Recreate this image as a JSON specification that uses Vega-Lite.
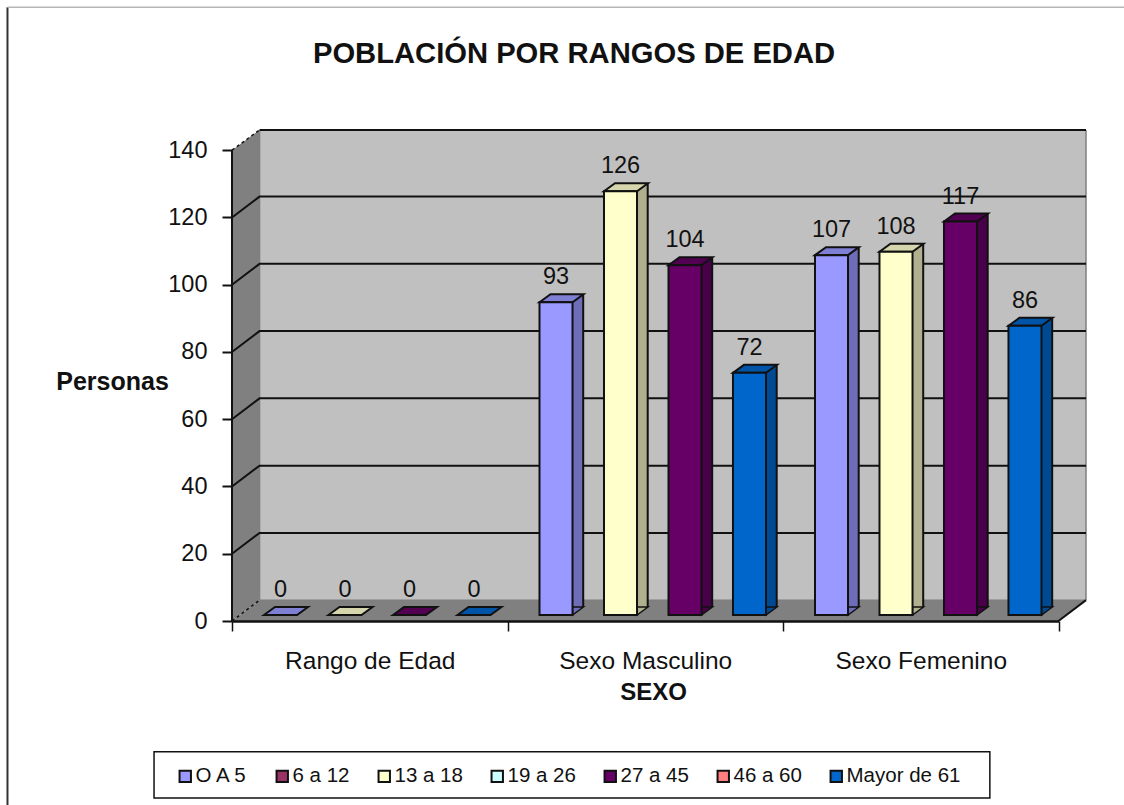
{
"$schema":"https://vega.github.io/schema/vega-lite/v6.json",
"autosize":{"type":"none"},
"padding":{"left":232,"top":130,"right":38,"bottom":184},
"width":854,"height":491,
"background":"white",
"view":{"stroke":null},
"font":"Liberation Sans",
"title":{"text":"POBLACIÓN POR RANGOS DE EDAD","anchor":"middle","frame":"group","font":"Liberation Sans","fontSize":29.2,"fontWeight":"bold","color":"#111111","dx":-85,"offset":-66},
"datasets":{
"bars":[
{"sexo":"Rango de Edad","rango":"O A 5","personas":0},
{"sexo":"Rango de Edad","rango":"13 a 18","personas":0},
{"sexo":"Rango de Edad","rango":"27 a 45","personas":0},
{"sexo":"Rango de Edad","rango":"Mayor de 61","personas":0},
{"sexo":"Sexo Masculino","rango":"O A 5","personas":93},
{"sexo":"Sexo Masculino","rango":"13 a 18","personas":126},
{"sexo":"Sexo Masculino","rango":"27 a 45","personas":104},
{"sexo":"Sexo Masculino","rango":"Mayor de 61","personas":72},
{"sexo":"Sexo Femenino","rango":"O A 5","personas":107},
{"sexo":"Sexo Femenino","rango":"13 a 18","personas":108},
{"sexo":"Sexo Femenino","rango":"27 a 45","personas":117},
{"sexo":"Sexo Femenino","rango":"Mayor de 61","personas":86}
],
"planes":[
{"part":"back","u":0.1,"lo":6.2,"hi":146},
{"part":"back","u":3.1,"lo":6.2,"hi":146},
{"part":"left","u":0,"lo":0,"hi":140},
{"part":"left","u":0.1,"lo":6.2,"hi":146},
{"part":"floor","u":0,"lo":0,"hi":0},
{"part":"floor","u":0.1,"lo":0,"hi":6.2},
{"part":"floor","u":3,"lo":0,"hi":6.2},
{"part":"floor","u":3.1,"lo":6.2,"hi":6.2}
],
"edges":[
{"kind":"grid","id":"g20","u":0,"v":20},{"kind":"grid","id":"g20","u":0.1,"v":26.2},{"kind":"grid","id":"g20","u":3.1,"v":26.2},
{"kind":"grid","id":"g40","u":0,"v":40},{"kind":"grid","id":"g40","u":0.1,"v":46.2},{"kind":"grid","id":"g40","u":3.1,"v":46.2},
{"kind":"grid","id":"g60","u":0,"v":60},{"kind":"grid","id":"g60","u":0.1,"v":66.2},{"kind":"grid","id":"g60","u":3.1,"v":66.2},
{"kind":"grid","id":"g80","u":0,"v":80},{"kind":"grid","id":"g80","u":0.1,"v":86.2},{"kind":"grid","id":"g80","u":3.1,"v":86.2},
{"kind":"grid","id":"g100","u":0,"v":100},{"kind":"grid","id":"g100","u":0.1,"v":106.2},{"kind":"grid","id":"g100","u":3.1,"v":106.2},
{"kind":"grid","id":"g120","u":0,"v":120},{"kind":"grid","id":"g120","u":0.1,"v":126.2},{"kind":"grid","id":"g120","u":3.1,"v":126.2},
{"kind":"grid","id":"top","u":0.1,"v":146},{"kind":"grid","id":"top","u":3.1,"v":146},
{"kind":"grid","id":"right","u":3,"v":0},{"kind":"grid","id":"right","u":3.1,"v":6.2},
{"kind":"grid","id":"axis","u":0,"v":0},{"kind":"grid","id":"axis","u":0,"v":140},
{"kind":"dash","id":"d1","u":0,"v":140},{"kind":"dash","id":"d1","u":0.1,"v":146},
{"kind":"dash","id":"d2","u":0,"v":0},{"kind":"dash","id":"d2","u":0.1,"v":6.2},
{"kind":"gray","id":"a","u":0.1,"v":6.2},{"kind":"gray","id":"a","u":3.1,"v":6.2},
{"kind":"gray","id":"b","u":0.1,"v":6.2},{"kind":"gray","id":"b","u":0.1,"v":146},
{"kind":"gray","id":"c","u":3.1,"v":6.2},{"kind":"gray","id":"c","u":3.1,"v":146},
{"kind":"frameL","id":"f1","u":-0.815,"v":-55},{"kind":"frameL","id":"f1","u":-0.815,"v":182.5},
{"kind":"frameT","id":"f2","u":-0.815,"v":182.5},{"kind":"frameT","id":"f2","u":3.24,"v":182.5}
],
"box":[{"u0":-0.283,"u1":2.751,"v0":-38.9,"v1":-52.6}]
},
"layer":[
{"layer":[
{"data":{"name":"planes"},"transform":[{"filter":"datum.part==='back'"}],"mark":{"type":"area","color":"#C0C0C0"},
"encoding":{"x":{"field":"u","type":"quantitative","scale":{"domain":[0,3.1],"nice":false,"zero":false},"axis":null},
"y":{"field":"lo","type":"quantitative","scale":{"domain":[0,146],"nice":false},"axis":{"values":[0,20,40,60,80,100,120,140],"grid":false,"domain":false,"tickSize":10,"tickColor":"#111111","tickWidth":2,"labelFontSize":23.5,"labelColor":"#111111","labelPadding":15,"labelFont":"Liberation Sans","title":"Personas","titleFont":"Liberation Sans","titleFontSize":25,"titleFontWeight":"bold","titleColor":"#111111","titleAngle":0,"titleAlign":"center","titleBaseline":"middle","titleX":-120,"titleY":251}},
"y2":{"field":"hi"}}},
{"data":{"name":"planes"},"transform":[{"filter":"datum.part!=='back'"}],"mark":{"type":"area","color":"#808080"},
"encoding":{"x":{"field":"u","type":"quantitative"},"y":{"field":"lo","type":"quantitative"},"y2":{"field":"hi"},"detail":{"field":"part"}}},
{"data":{"name":"edges"},"transform":[{"filter":"datum.kind==='gray'"}],"mark":{"type":"line","color":"#7f7f7f","strokeWidth":1.5},
"encoding":{"x":{"field":"u","type":"quantitative"},"y":{"field":"v","type":"quantitative"},"detail":{"field":"id"}}},
{"data":{"name":"edges"},"transform":[{"filter":"datum.kind==='grid'"}],"mark":{"type":"line","color":"#111111","strokeWidth":2},
"encoding":{"x":{"field":"u","type":"quantitative"},"y":{"field":"v","type":"quantitative"},"detail":{"field":"id"}}},
{"data":{"name":"edges"},"transform":[{"filter":"datum.kind==='dash'"}],"mark":{"type":"line","color":"#111111","strokeWidth":1.5,"strokeDash":[3,3]},
"encoding":{"x":{"field":"u","type":"quantitative"},"y":{"field":"v","type":"quantitative"},"detail":{"field":"id"}}},
{"data":{"name":"edges"},"transform":[{"filter":"datum.kind==='frameL'"}],"mark":{"type":"line","color":"#333333","strokeWidth":2,"clip":false},
"encoding":{"x":{"field":"u","type":"quantitative"},"y":{"field":"v","type":"quantitative"},"detail":{"field":"id"}}},
{"data":{"name":"edges"},"transform":[{"filter":"datum.kind==='frameT'"}],"mark":{"type":"line","color":"#b5b5b5","strokeWidth":1.5,"clip":false},
"encoding":{"x":{"field":"u","type":"quantitative"},"y":{"field":"v","type":"quantitative"},"detail":{"field":"id"}}},
{"data":{"name":"box"},"mark":{"type":"rect","fill":"white","stroke":"#111111","strokeWidth":1.5},
"encoding":{"x":{"field":"u0","type":"quantitative"},"x2":{"field":"u1"},"y":{"field":"v0","type":"quantitative"},"y2":{"field":"v1"}}}
]},
{"data":{"name":"bars"},
"encoding":{
"x":{"field":"sexo","type":"nominal","sort":["Rango de Edad","Sexo Masculino","Sexo Femenino"],
"scale":{"domain":["Rango de Edad","Sexo Masculino","Sexo Femenino"],"range":[0,826.5],"paddingInner":0,"paddingOuter":0},
"axis":{"orient":"bottom","labelAngle":0,"labelFontSize":24.5,"labelFont":"Liberation Sans","labelColor":"#111111","labelPadding":18,"tickBand":"extent","tickSize":10,"tickColor":"#111111","tickWidth":1.5,"domainColor":"#111111","domainWidth":2.5,"zindex":1,"title":"SEXO","titleFont":"Liberation Sans","titleFontSize":24,"titleFontWeight":"bold","titleColor":"#111111","titleX":421,"titleY":71,"titleAlign":"center","titleBaseline":"middle"}},
"y":{"field":"personas","type":"quantitative"}
},
"layer":[
{"transform":[{"filter":"datum.personas>0"}],"mark":{"type":"bar","width":11,"yOffset":-14,"y2Offset":-14,"strokeWidth":0},
"encoding":{"xOffset":{"field":"rango","type":"nominal","scale":{"domain":["O A 5","13 a 18","27 a 45","Mayor de 61"],"range":[54,280.5],"paddingInner":0.488,"paddingOuter":0}},
"color":{"field":"rango","type":"nominal","legend":null,"scale":{"domain":["O A 5","13 a 18","27 a 45","Mayor de 61"],"range":["#6E6EB8","#B0B08F","#480048","#004A94"]}}}},
{"transform":[{"filter":"datum.personas>0"}],"mark":{"type":"bar","width":2,"color":"#111111","strokeWidth":0,"yOffset":-14,"y2Offset":-14},
"encoding":{"xOffset":{"field":"rango","type":"nominal","scale":{"domain":["O A 5","13 a 18","27 a 45","Mayor de 61"],"range":[59.2,285.7],"paddingInner":0.488,"paddingOuter":0}}}},
{"transform":[{"filter":"datum.personas>0"}],"mark":{"type":"point","filled":true,"opacity":1,"size":4,"yOffset":-6,"stroke":"#111111","strokeWidth":1.5,"shape":"M27.5 -8 L16.5 0 L16.5 -8 Z"},
"encoding":{"xOffset":{"field":"rango","type":"nominal","scale":{"domain":["O A 5","13 a 18","27 a 45","Mayor de 61"],"range":[48.5,242],"paddingOuter":0}},"y":{"datum":0,"type":"quantitative"},"color":{"field":"rango","type":"nominal","legend":null,"scale":{"domain":["O A 5","13 a 18","27 a 45","Mayor de 61"],"range":["#6E6EB8","#B0B08F","#480048","#004A94"]}}}},
{"mark":{"type":"point","filled":true,"opacity":1,"size":4,"yOffset":-6,"stroke":"#111111","strokeWidth":2,"shape":"M-16.5 0 L-5.5 -8 L27.5 -8 L16.5 0 Z"},
"encoding":{"xOffset":{"field":"rango","type":"nominal","scale":{"domain":["O A 5","13 a 18","27 a 45","Mayor de 61"],"range":[48.5,242],"paddingOuter":0}},"color":{"field":"rango","type":"nominal","legend":null,"scale":{"domain":["O A 5","13 a 18","27 a 45","Mayor de 61"],"range":["#7F7FD4","#D6D6AC","#520052","#0054A8"]}}}},
{"mark":{"type":"bar","yOffset":-6,"y2Offset":-6,"stroke":"#111111","strokeWidth":2},
"encoding":{"xOffset":{"field":"rango","type":"nominal","scale":{"domain":["O A 5","13 a 18","27 a 45","Mayor de 61"],"range":[32,258.5],"paddingInner":0.488,"paddingOuter":0}},"color":{"field":"rango","type":"nominal","scale":{"domain":["O A 5","6 a 12","13 a 18","19 a 26","27 a 45","46 a 60","Mayor de 61"],"range":["#9999FF","#993366","#FFFFCC","#CCFFFF","#660066","#FF8080","#0066CC"]},
"legend":{"orient":"none","legendX":-57,"legendY":636,"direction":"horizontal","columns":7,"title":null,"padding":0,"symbolType":"square","symbolSize":130,"symbolStrokeColor":"#111111","symbolStrokeWidth":2,"labelFont":"Liberation Sans","labelFontSize":20.5,"labelColor":"#111111","labelOffset":0,"columnPadding":24}}}},
{"mark":{"type":"text","yOffset":-31,"fontSize":23.5,"font":"Liberation Sans","color":"#111111","baseline":"middle"},
"encoding":{"xOffset":{"field":"rango","type":"nominal","scale":{"domain":["O A 5","13 a 18","27 a 45","Mayor de 61"],"range":[48.5,242],"paddingOuter":0}},"text":{"field":"personas","type":"quantitative"}}}
],
"resolve":{"scale":{"color":"independent","xOffset":"independent"}}
}
],
"resolve":{"scale":{"x":"independent"}}
}
